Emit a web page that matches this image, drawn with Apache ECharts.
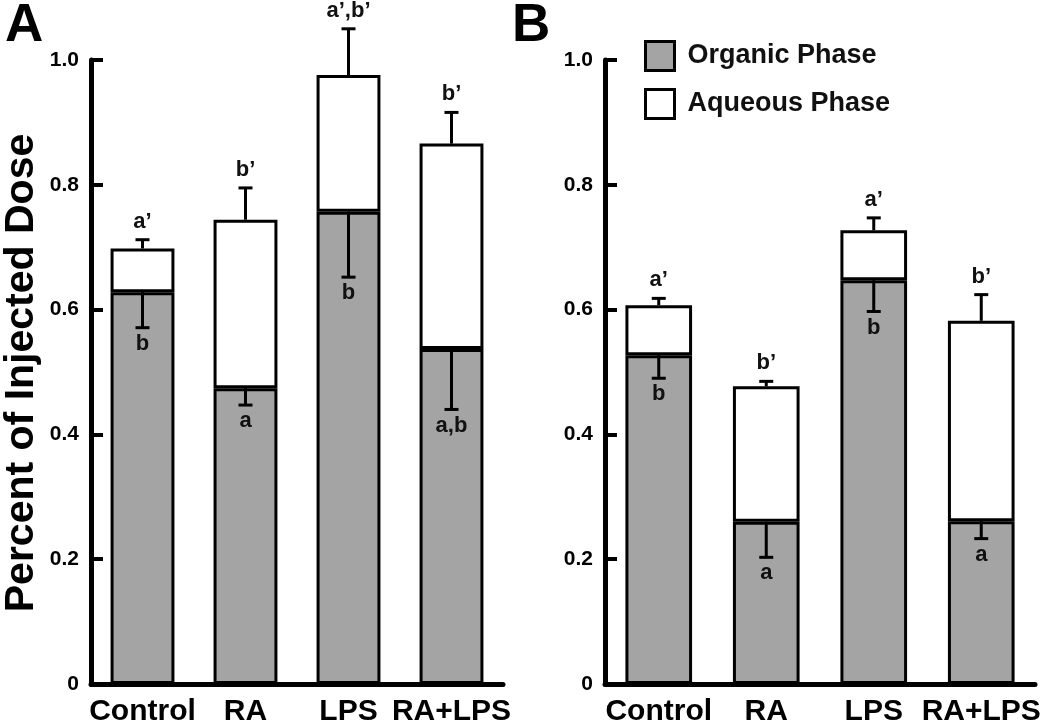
<!DOCTYPE html>
<html>
<head>
<meta charset="utf-8">
<script src="https://cdn.jsdelivr.net/npm/echarts@6/dist/echarts.min.js"></script>
<style>html,body{margin:0;padding:0;background:#fff;}#c{width:1050px;height:727px;}</style>
</head>
<body>
<div id="c"></div>
<script>
var categories = ['Control', 'RA', 'LPS', 'RA+LPS'];
var yTicks = [0, 0.2, 0.4, 0.6, 0.8, 1.0];

// Panel A
var organicA = [0.628, 0.474, 0.757, 0.537];
var aqueousA = [0.070, 0.270, 0.219, 0.329];
var organicErrA = [0.057, 0.027, 0.105, 0.097];
var aqueousErrA = [0.014, 0.051, 0.074, 0.050];
var organicLetA = ['b', 'a', 'b', 'a,b'];
var aqueousLetA = ['a\u2019', 'b\u2019', 'a\u2019,b\u2019', 'b\u2019'];

// Panel B
var organicB = [0.527, 0.260, 0.647, 0.261];
var aqueousB = [0.080, 0.217, 0.080, 0.321];
var organicErrB = [0.037, 0.057, 0.050, 0.028];
var aqueousErrB = [0.011, 0.008, 0.020, 0.042];
var organicLetB = ['b', 'a', 'b', 'a'];
var aqueousLetB = ['a\u2019', 'b\u2019', 'a\u2019', 'b\u2019'];

var FONT = '"Liberation Sans", Arial, Helvetica, sans-serif';
var GRAY = '#a4a4a4';

function errData(org, aq, orgErr, aqErr) {
  return categories.map(function (c, i) {
    return [i, org[i], orgErr[i], org[i] + aq[i], aqErr[i]];
  });
}

function makeErrRender(orgLet, aqLet) {
  return function (params, api) {
    var i = api.value(0);
    var org = api.value(1), oe = api.value(2), tot = api.value(3), ae = api.value(4);
    var pOrg = api.coord([i, org]);
    var pOrgLo = api.coord([i, org - oe]);
    var pTot = api.coord([i, tot]);
    var pTotHi = api.coord([i, tot + ae]);
    var x = pOrg[0];
    var cap = 7;
    var st = { stroke: '#000', lineWidth: 3 };
    var idx = params.dataIndex;
    return {
      type: 'group',
      children: [
        { type: 'line', shape: { x1: x, y1: pOrg[1], x2: x, y2: pOrgLo[1] }, style: st },
        { type: 'line', shape: { x1: x - cap, y1: pOrgLo[1], x2: x + cap, y2: pOrgLo[1] }, style: st },
        { type: 'line', shape: { x1: x, y1: pTot[1], x2: x, y2: pTotHi[1] }, style: st },
        { type: 'line', shape: { x1: x - cap, y1: pTotHi[1], x2: x + cap, y2: pTotHi[1] }, style: st },
        { type: 'text', style: { x: x, y: pOrgLo[1] + 5, text: orgLet[idx], align: 'center', verticalAlign: 'top',
            font: 'bold 22px ' + FONT, fill: '#111' } },
        { type: 'text', style: { x: x, y: pTotHi[1] - 7, text: aqLet[idx], align: 'center', verticalAlign: 'bottom',
            font: 'bold 22px ' + FONT, fill: '#111' } }
      ]
    };
  };
}

function xAxisCfg(gi) {
  return {
    type: 'category', gridIndex: gi, data: categories,
    axisLine: { lineStyle: { color: '#000', width: 5 } },
    axisTick: { show: false },
    axisLabel: { interval: 0, margin: 13, color: '#000', fontFamily: FONT, fontWeight: 'bold', fontSize: 30 }
  };
}
function yAxisCfg(gi) {
  return {
    type: 'value', gridIndex: gi, min: 0, max: 1.0, interval: 0.2,
    axisLine: { show: true, lineStyle: { color: '#000', width: 5 } },
    axisTick: { show: true, inside: true, length: 12, lineStyle: { color: '#000', width: 4 } },
    splitLine: { show: false },
    axisLabel: { margin: 12, color: '#000', fontFamily: FONT, fontWeight: 'bold', fontSize: 21,
      formatter: function (v) { return v === 0 ? '0' : v.toFixed(1); } }
  };
}

function barSeries(name, data, color, gi) {
  return {
    name: name, type: 'bar', stack: 'p' + gi, xAxisIndex: gi, yAxisIndex: gi,
    data: data, barWidth: '62%',
    itemStyle: { color: color, borderColor: '#000', borderWidth: 3 },
    emphasis: { disabled: true }
  };
}

var chart = echarts.init(document.getElementById('c'), null, { renderer: 'canvas' });
chart.setOption({
  backgroundColor: '#fff',
  animation: false,
  grid: [
    { left: 91, top: 60, width: 412, height: 628 },
    { left: 605, top: 60, width: 430, height: 628 }
  ],
  xAxis: [xAxisCfg(0), xAxisCfg(1)],
  yAxis: [yAxisCfg(0), yAxisCfg(1)],
  legend: {
    orient: 'vertical', left: 639, top: 35, itemGap: 16,
    itemWidth: 29, itemHeight: 29, icon: 'rect',
    data: ['Organic Phase', 'Aqueous Phase'],
    itemStyle: { borderColor: '#000', borderWidth: 3 },
    textStyle: { fontFamily: FONT, fontWeight: 'bold', fontSize: 27, color: '#111', padding: [0, 0, 0, 8], lineHeight: 30 },
    selectedMode: false
  },
  graphic: [
    { type: 'text', left: 5, top: 0, style: { text: 'A', font: 'bold 53px ' + FONT, fill: '#000' } },
    { type: 'text', left: 512, top: 0, style: { text: 'B', font: 'bold 53px ' + FONT, fill: '#000' } },
    { type: 'text', x: 22, y: 373, rotation: Math.PI / 2,
      style: { text: 'Percent of Injected Dose', font: 'bold 41px ' + FONT, fill: '#000', align: 'center', verticalAlign: 'middle' } }
  ],
  series: [
    barSeries('Organic Phase', organicA, GRAY, 0),
    barSeries('Aqueous Phase', aqueousA, '#fff', 0),
    barSeries('Organic Phase', organicB, GRAY, 1),
    barSeries('Aqueous Phase', aqueousB, '#fff', 1),
    { type: 'custom', xAxisIndex: 0, yAxisIndex: 0, z: 10, clip: false,
      data: errData(organicA, aqueousA, organicErrA, aqueousErrA),
      renderItem: makeErrRender(organicLetA, aqueousLetA) },
    { type: 'custom', xAxisIndex: 1, yAxisIndex: 1, z: 10, clip: false,
      data: errData(organicB, aqueousB, organicErrB, aqueousErrB),
      renderItem: makeErrRender(organicLetB, aqueousLetB) }
  ]
});
</script>
</body>
</html>
